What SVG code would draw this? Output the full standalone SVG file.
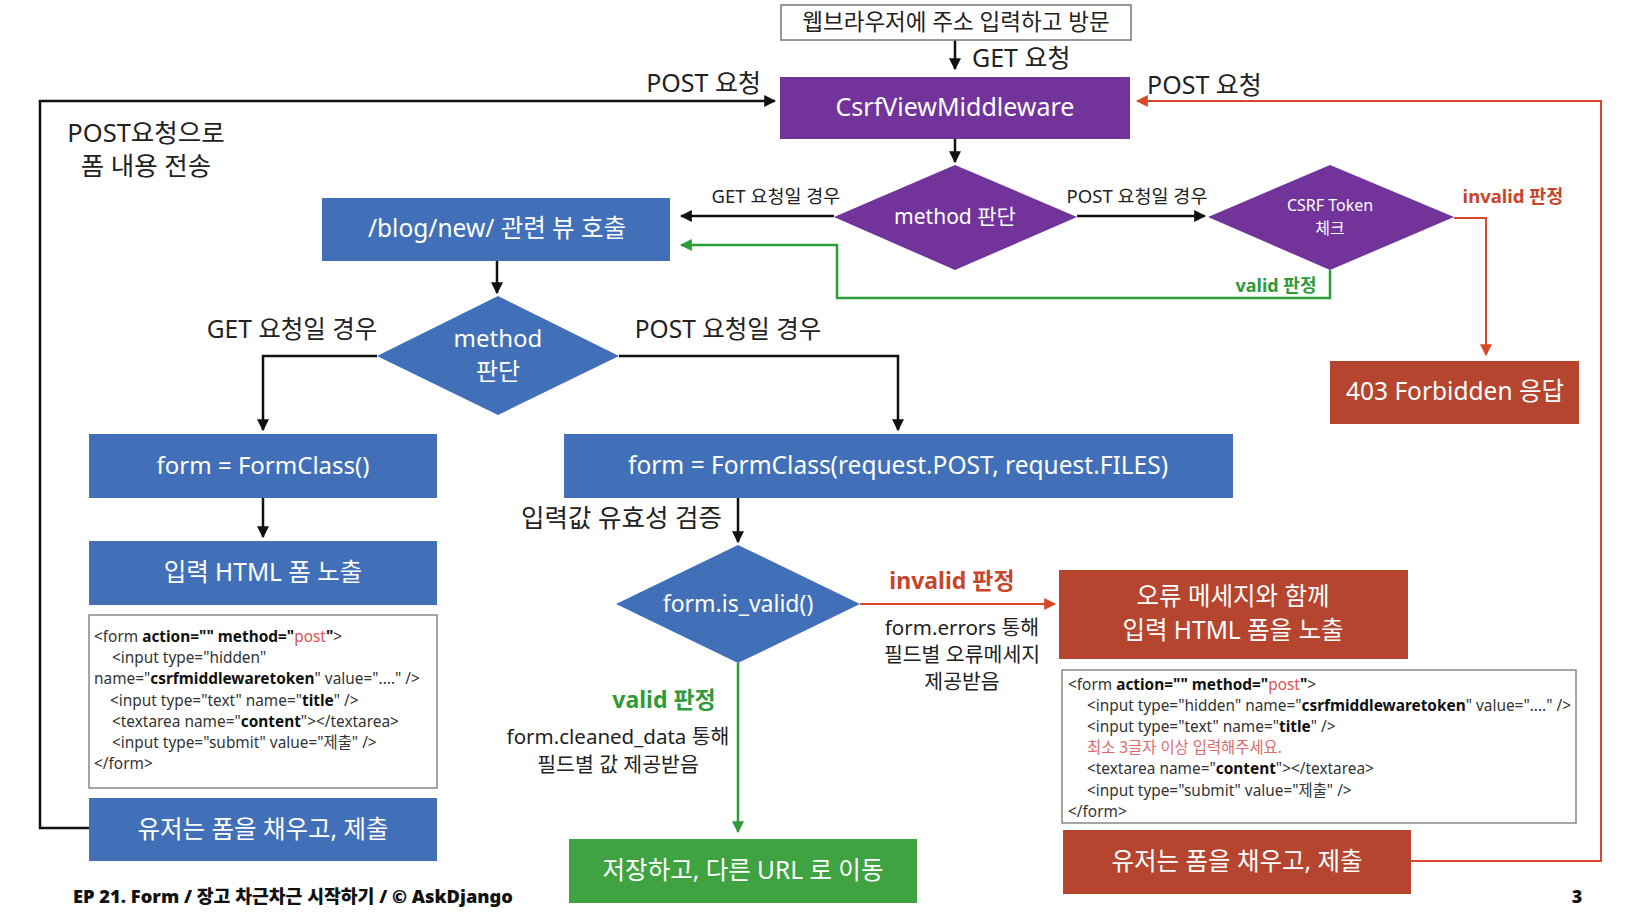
<svg xmlns="http://www.w3.org/2000/svg" width="1640" height="924" viewBox="0 0 1640 924">
<defs>
<marker id="ab" viewBox="0 0 10 10" refX="9" refY="5" markerWidth="12" markerHeight="12" markerUnits="userSpaceOnUse" orient="auto"><path d="M0,0 L10,5 L0,10 z" fill="#111"/></marker>
<marker id="ar" viewBox="0 0 10 10" refX="9" refY="5" markerWidth="12" markerHeight="12" markerUnits="userSpaceOnUse" orient="auto"><path d="M0,0 L10,5 L0,10 z" fill="#D9472B"/></marker>
<marker id="ag" viewBox="0 0 10 10" refX="9" refY="5" markerWidth="12" markerHeight="12" markerUnits="userSpaceOnUse" orient="auto"><path d="M0,0 L10,5 L0,10 z" fill="#2E9B3A"/></marker>
<style>
text{font-family:"Noto Sans","Noto Sans CJK KR",sans-serif;}
.w{fill:#fff;text-anchor:middle;}
.k{fill:#222;}
.c{text-anchor:middle;}
.code{font-size:15.4px;fill:#333;}
.b{font-weight:bold;fill:#111;}
.pr{fill:#E05050;}
.err{fill:#E06A6A;}
.purple{fill:#72339B;}
.blue{fill:#4170B9;}
.red{fill:#B5452E;}
.green{fill:#3FA341;}
.lk{fill:none;stroke:#111;stroke-width:2.5;}
.lr{fill:none;stroke:#D9472B;stroke-width:2;}
.lg{fill:none;stroke:#2E9B3A;stroke-width:2.5;}
</style>
</defs>
<rect width="1640" height="924" fill="#fff"/>

<g id="connectors">
<path class="lk" d="M955,40 V69" marker-end="url(#ab)"/>
<path class="lk" stroke-width="3" d="M89,828 H40 V101 H775" marker-end="url(#ab)"/>
<path class="lr" d="M1411,861 H1601 V101 H1137" marker-end="url(#ar)"/>
<path class="lk" d="M955,139 V162" marker-end="url(#ab)"/>
<path class="lk" d="M834,216 H681" marker-end="url(#ab)"/>
<path class="lk" d="M1077,216 H1205" marker-end="url(#ab)"/>
<path class="lr" d="M1454,218 H1486 V355" marker-end="url(#ar)"/>
<path class="lg" d="M1330,270 V298 H837 V245 H681" marker-end="url(#ag)"/>
<path class="lk" stroke-width="3.5" d="M497,261 V293" marker-end="url(#ab)"/>
<path class="lk" d="M377,356 H263 V430" marker-end="url(#ab)"/>
<path class="lk" d="M619,356 H898 V430" marker-end="url(#ab)"/>
<path class="lk" d="M263,498 V537" marker-end="url(#ab)"/>
<path class="lk" d="M738,498 V542" marker-end="url(#ab)"/>
<path class="lr" d="M860,604 H1055" marker-end="url(#ar)"/>
<path class="lg" d="M738,663 V832" marker-end="url(#ag)"/>
</g>

<g id="n-visit"><rect x="781" y="5" width="350" height="35" fill="#fff" stroke="#777" stroke-width="1.5"/><text x="956" y="30" class="k c" font-size="22.5">웹브라우저에 주소 입력하고 방문</text></g>
<g id="l-get"><text x="972" y="67" class="k" font-size="25">GET 요청</text></g>
<g id="l-post1"><text x="761" y="92" class="k" font-size="25" text-anchor="end">POST 요청</text></g>
<g id="l-post2"><text x="1147" y="94" class="k" font-size="25">POST 요청</text></g>
<g id="l-send"><text x="146" y="142" class="k c" font-size="25.5">POST요청으로</text><text x="146" y="175" class="k c" font-size="25.5">폼 내용 전송</text></g>

<g id="n-csrfmw"><rect x="780" y="77" width="350" height="62" class="purple"/><text x="955" y="116" class="w" font-size="25">CsrfViewMiddleware</text></g>
<g id="n-method1"><polygon points="955,165 1077,217 955,270 834,217" class="purple"/><text x="955" y="224" class="w" font-size="21">method 판단</text></g>
<g id="l-get1"><text x="776" y="203" class="k c" font-size="18.5">GET 요청일 경우</text></g>
<g id="l-post3"><text x="1137" y="203" class="k c" font-size="18.5">POST 요청일 경우</text></g>
<g id="n-csrfchk"><polygon points="1330,165 1454,217 1330,270 1208,217" class="purple"/><text x="1330" y="211" class="w" font-size="16">CSRF Token</text><text x="1330" y="234" class="w" font-size="16">체크</text></g>
<g id="l-inv1"><text x="1513" y="203" class="c" font-size="18.5" font-weight="bold" fill="#C8452A">invalid 판정</text></g>
<g id="l-val1"><text x="1276" y="292" class="c" font-size="18" font-weight="bold" fill="#2E9B3A">valid 판정</text></g>
<g id="n-403"><rect x="1330" y="361" width="249" height="63" class="red"/><text x="1455" y="400" class="w" font-size="24.5">403 Forbidden 응답</text></g>

<g id="n-blog"><rect x="322" y="198" width="348" height="63" class="blue"/><text x="497" y="237" class="w" font-size="24.5">/blog/new/ 관련 뷰 호출</text></g>
<g id="n-method2"><polygon points="498,296 619,356 498,415 377,356" class="blue"/><text x="498" y="347" class="w" font-size="24">method</text><text x="498" y="380" class="w" font-size="24">판단</text></g>
<g id="l-get2"><text x="292" y="338" class="k c" font-size="24.5">GET 요청일 경우</text></g>
<g id="l-post4"><text x="728" y="338" class="k c" font-size="24.5">POST 요청일 경우</text></g>

<g id="n-formget"><rect x="89" y="434" width="348" height="64" class="blue"/><text x="263" y="474" class="w" font-size="24">form = FormClass()</text></g>
<g id="n-showform"><rect x="89" y="541" width="348" height="64" class="blue"/><text x="263" y="581" class="w" font-size="24.5">입력 HTML 폼 노출</text></g>
<g id="n-code1"><rect x="89" y="615" width="348" height="173" fill="#fff" stroke="#888" stroke-width="1.5"/>
<text class="code" x="94" y="642">&lt;form <tspan class="b">action="" method="</tspan><tspan class="pr">post</tspan><tspan class="b">"</tspan>&gt;</text>
<text class="code" x="112" y="663">&lt;input type="hidden"</text>
<text class="code" x="94" y="684">name="<tspan class="b">csrfmiddlewaretoken</tspan>" value="...." /&gt;</text>
<text class="code" x="110" y="706">&lt;input type="text" name="<tspan class="b">title</tspan>" /&gt;</text>
<text class="code" x="112" y="727">&lt;textarea name="<tspan class="b">content</tspan>"&gt;&lt;/textarea&gt;</text>
<text class="code" x="112" y="748">&lt;input type="submit" value="제출" /&gt;</text>
<text class="code" x="94" y="769">&lt;/form&gt;</text>
</g>
<g id="n-submit1"><rect x="89" y="798" width="348" height="63" class="blue"/><text x="263" y="838" class="w" font-size="24.5">유저는 폼을 채우고, 제출</text></g>

<g id="n-formpost"><rect x="564" y="434" width="669" height="64" class="blue"/><text x="898" y="474" class="w" font-size="24.5">form = FormClass(request.POST, request.FILES)</text></g>
<g id="l-validate"><text x="722" y="527" class="k" font-size="25.5" text-anchor="end">입력값 유효성 검증</text></g>
<g id="n-isvalid"><polygon points="738,545 860,604 738,663 616,604" class="blue"/><text x="738" y="612" class="w" font-size="23">form.is_valid()</text></g>
<g id="l-inv2"><text x="952" y="589" class="c" font-size="23" font-weight="bold" fill="#C8452A">invalid 판정</text></g>
<g id="l-errors"><text x="962" y="635" class="k c" font-size="20.5">form.errors 통해</text><text x="962" y="662" class="k c" font-size="20.5">필드별 오류메세지</text><text x="962" y="689" class="k c" font-size="20.5">제공받음</text></g>
<g id="n-errform"><rect x="1059" y="570" width="349" height="89" class="red"/><text x="1233" y="605" class="w" font-size="24.5">오류 메세지와 함께</text><text x="1233" y="639" class="w" font-size="24.5">입력 HTML 폼을 노출</text></g>
<g id="n-code2"><rect x="1062" y="670" width="514" height="153" fill="#fff" stroke="#888" stroke-width="1.5"/>
<text class="code" x="1068" y="690">&lt;form <tspan class="b">action="" method="</tspan><tspan class="pr">post</tspan><tspan class="b">"</tspan>&gt;</text>
<text class="code" x="1087" y="711">&lt;input type="hidden" name="<tspan class="b">csrfmiddlewaretoken</tspan>" value="...." /&gt;</text>
<text class="code" x="1087" y="732">&lt;input type="text" name="<tspan class="b">title</tspan>" /&gt;</text>
<text class="code err" x="1087" y="753">최소 3글자 이상 입력해주세요.</text>
<text class="code" x="1087" y="774">&lt;textarea name="<tspan class="b">content</tspan>"&gt;&lt;/textarea&gt;</text>
<text class="code" x="1087" y="796">&lt;input type="submit" value="제출" /&gt;</text>
<text class="code" x="1068" y="817">&lt;/form&gt;</text>
</g>
<g id="n-submit2"><rect x="1063" y="830" width="348" height="64" class="red"/><text x="1237" y="870" class="w" font-size="24.5">유저는 폼을 채우고, 제출</text></g>

<g id="l-val2"><text x="664" y="708" class="c" font-size="23" font-weight="bold" fill="#2E9B3A">valid 판정</text></g>
<g id="l-cleaned"><text x="618" y="744" class="k c" font-size="20.5">form.cleaned_data 통해</text><text x="618" y="772" class="k c" font-size="20.5">필드별 값 제공받음</text></g>
<g id="n-save"><rect x="569" y="839" width="348" height="64" class="green"/><text x="743" y="879" class="w" font-size="24.5">저장하고, 다른 URL 로 이동</text></g>

<g id="footer"><text x="73" y="903" font-size="18.3" font-weight="900" fill="#111">EP 21. Form / 장고 차근차근 시작하기 / © AskDjango</text><text x="1577" y="903" font-size="18" font-weight="900" fill="#111" text-anchor="middle">3</text></g>
</svg>
